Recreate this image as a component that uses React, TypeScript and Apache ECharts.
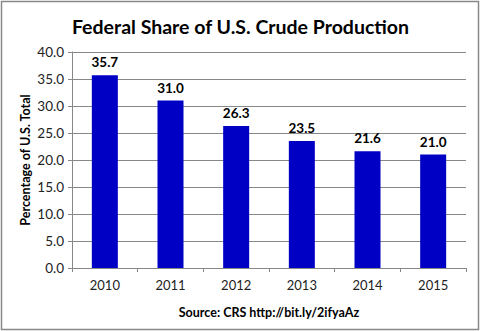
import React, { useEffect, useRef } from "react";
import * as echarts from "echarts";

const categories = ["2010", "2011", "2012", "2013", "2014", "2015"];
const values = [35.7, 31.0, 26.3, 23.5, 21.6, 21.0];
const titleText = "Federal Share of U.S. Crude Production";
const yName = "Percentage of U.S. Total";
const xName = "Source: CRS http://bit.ly/2ifyaAz";

export default function App() {
  const ref = useRef<HTMLDivElement>(null);
  useEffect(() => {
    document.body.style.margin = "0";
    const chart = echarts.init(ref.current!, null, { renderer: "svg" });
    const font = "Lato, 'Open Sans', sans-serif";
    chart.setOption({
      animation: false,
      backgroundColor: "#fff",
      title: {
        text: titleText,
        left: "center",
        top: 11,
        textStyle: { fontFamily: font, fontWeight: "bold", fontSize: 19.5, color: "#000" },
      },
      grid: { left: 72, right: 15, top: 52, bottom: 63 },
      xAxis: {
        type: "category",
        data: categories,
        name: xName,
        nameLocation: "middle",
        nameGap: 38,
        nameTextStyle: { fontFamily: font, fontWeight: "bold", fontSize: 12.5, color: "#000" },
        axisLine: { lineStyle: { color: "#888" } },
        axisTick: { show: true, alignWithLabel: false, length: 4, lineStyle: { color: "#888" } },
        axisLabel: { fontFamily: font, fontSize: 13, color: "#222", margin: 10 },
      },
      yAxis: {
        type: "value",
        min: 0,
        max: 40,
        interval: 5,
        name: yName,
        nameLocation: "middle",
        nameGap: 40,
        nameMoveOverlap: false,
        nameTextStyle: { fontFamily: font, fontWeight: "bold", fontSize: 12.5, color: "#000" },
        axisLine: { show: true, lineStyle: { color: "#888" } },
        axisTick: { show: true, length: 4, lineStyle: { color: "#888" } },
        axisLabel: {
          fontFamily: font,
          fontSize: 13.5,
          color: "#222",
          margin: 8,
          formatter: (v: number) => v.toFixed(1),
        },
        splitLine: { lineStyle: { color: "#888", width: 1 } },
      },
      series: [
        {
          type: "bar",
          data: values,
          barWidth: 26,
          itemStyle: { color: "#0000C4" },
          label: {
            show: true,
            position: "top",
            distance: 6,
            fontFamily: font,
            fontWeight: "bold",
            fontSize: 13.5,
            color: "#000",
            formatter: (p: any) => Number(p.value).toFixed(1),
          },
        },
      ],
      graphic: [
        {
          type: "rect",
          shape: { x: 1.5, y: 1.5, width: 477, height: 328 },
          style: { fill: "none", stroke: "#888", lineWidth: 1.5 },
          silent: true,
        },
      ],
    });
    return () => chart.dispose();
  }, []);
  return <div ref={ref} style={{ width: 481, height: 331 }} />;
}
